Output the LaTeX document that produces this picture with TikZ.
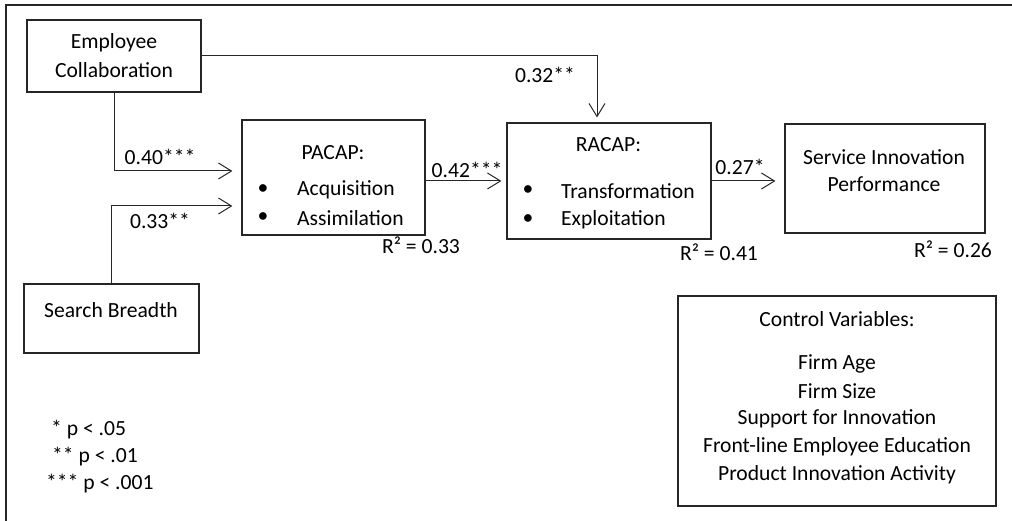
\documentclass[tikz,border=0pt]{standalone}
\usepackage{fontspec}
\setmainfont{Carlito}
\usetikzlibrary{arrows.meta}
\tikzset{
  box/.style={draw=black!85, line width=1.2pt, minimum width=#1, inner sep=0pt},
  txt/.style={font=\fontsize{21.6}{25}\selectfont, inner sep=0pt, text=black},
  arr/.style={draw=black!85, line width=1pt, -{Straight Barb[length=13pt,width=16pt,line width=1pt]}},
}
\begin{document}
\begin{tikzpicture}[x=1pt,y=-1pt]
\useasboundingbox (0,0) rectangle (1012,521);
\draw[line width=2pt, black!85] (6,521) -- (6,5) -- (1012,5);
% boxes
\node[box=174pt, minimum height=72pt] (ec) at (114,56) {};
\node[box=175pt, minimum height=69pt] (sb) at (111.5,318.5) {};
\node[box=183pt, minimum height=115pt] (pacap) at (333.5,177.5) {};
\node[box=204pt, minimum height=116pt] (racap) at (609,181) {};
\node[box=200pt, minimum height=109pt] (sip) at (885,178.5) {};
\node[box=318pt, minimum height=210pt] (ctrl) at (837,401) {};
% box texts
\node[txt] (ec1) at (114,43) {Employee};
\node[txt] (ec2) at (114,70) {Collaboration};
\node[txt] (sbt) at (111,310) {Search Breadth};
\node[txt] (pt) at (333,153) {PACAP:};
\node[txt] (pb1) at (263,190) {\textbullet};
\node[txt] (pb2) at (263,218) {\textbullet};
\node[txt, anchor=west] (pa1) at (297,190) {Acquisition};
\node[txt, anchor=west] (pa2) at (297,218) {Assimilation};
\node[txt] (rt) at (608.5,145) {RACAP:};
\node[txt] (rb1) at (528,191) {\textbullet};
\node[txt] (rb2) at (528,220) {\textbullet};
\node[txt, anchor=west] (ra1) at (561,191) {Transformation};
\node[txt, anchor=west] (ra2) at (561,220) {Exploitation};
\node[txt] (s1) at (884,157) {Service Innovation};
\node[txt] (s2) at (884,184) {Performance};
\node[txt] (c0) at (837,319) {Control Variables:};
\node[txt] (c1) at (837,364) {Firm Age};
\node[txt] (c2) at (837,391) {Firm Size};
\node[txt] (c3) at (837,419) {Support for Innovation};
\node[txt] (c4) at (837,447) {Front-line Employee Education};
\node[txt] (c5) at (837,475) {Product Innovation Activity};
% R squared
\node[txt] (r1) at (421,245) {R² = 0.33};
\node[txt] (r2) at (719,252) {R² = 0.41};
\node[txt] (r3) at (953,249) {R² = 0.26};
% legend
\node[txt, anchor=west] (l1) at (51,430) {* p < .05};
\node[txt, anchor=west] (l2) at (52,457) {** p < .01};
\node[txt, anchor=west] (l3) at (46,484) {*** p < .001};
% connectors
\draw[arr, shorten >=5pt] (ec.east) -| ([xshift=-12pt]racap.north);
\draw[arr, shorten >=9pt] (ec.south) |- ([yshift=6.5pt]pacap.west);
\draw[arr, shorten >=9pt] (sb.north) |- ([yshift=-28.5pt]pacap.west);
\draw[arr, shorten >=5pt] (racap.west -| pacap.east) -- (racap.west);
\draw[arr, shorten >=9pt] (racap.east) -- (racap.east -| sip.west);
% coefficient labels
\node[txt] (k1) at (545,75) {0.32**};
\node[txt] (k2) at (160,157) {0.40***};
\node[txt] (k3) at (160,221) {0.33**};
\node[txt] (k4) at (467,170) {0.42***};
\node[txt] (k5) at (740,167) {0.27*};
\end{tikzpicture}
\end{document}
